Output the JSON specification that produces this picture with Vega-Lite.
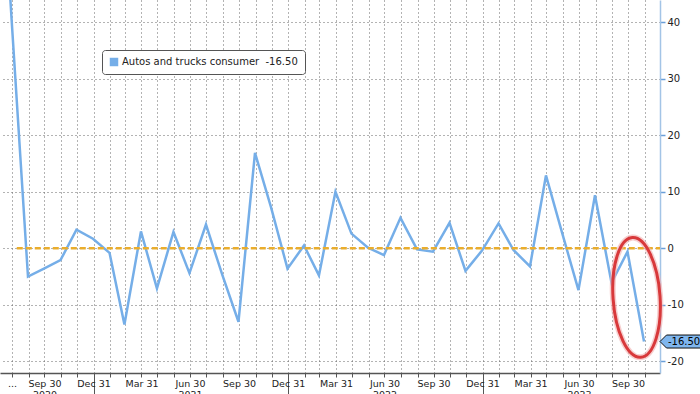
{
  "$schema": "https://vega.github.io/schema/vega-lite/v6.json",
  "width": 660,
  "height": 373,
  "autosize": "none",
  "padding": {"left": 0, "top": 0, "right": 40, "bottom": 21},
  "background": "white",
  "config": {"view": {"stroke": null}, "font": "DejaVu Sans"},
  "datasets": {
    "series": [
      {"date": "2020-06-30", "value": 88.8},
      {"date": "2020-07-31", "value": 40.9},
      {"date": "2020-08-31", "value": -5.0},
      {"date": "2020-09-30", "value": -3.6},
      {"date": "2020-10-31", "value": -2.1},
      {"date": "2020-11-30", "value": 3.3},
      {"date": "2020-12-31", "value": 1.7},
      {"date": "2021-01-31", "value": -0.8},
      {"date": "2021-02-28", "value": -13.5},
      {"date": "2021-03-31", "value": 3.0},
      {"date": "2021-04-30", "value": -7.1},
      {"date": "2021-05-31", "value": 2.9},
      {"date": "2021-06-30", "value": -4.4},
      {"date": "2021-07-31", "value": 4.2},
      {"date": "2021-08-31", "value": -4.8},
      {"date": "2021-09-30", "value": -13.0},
      {"date": "2021-10-31", "value": 16.9},
      {"date": "2021-11-30", "value": 7.3},
      {"date": "2021-12-31", "value": -3.6},
      {"date": "2022-01-31", "value": 0.5},
      {"date": "2022-02-28", "value": -4.8},
      {"date": "2022-03-31", "value": 10.0},
      {"date": "2022-04-30", "value": 2.6},
      {"date": "2022-05-31", "value": 0.1},
      {"date": "2022-06-30", "value": -1.2},
      {"date": "2022-07-31", "value": 5.4},
      {"date": "2022-08-31", "value": -0.2},
      {"date": "2022-09-30", "value": -0.6},
      {"date": "2022-10-31", "value": 4.5},
      {"date": "2022-11-30", "value": -4.0},
      {"date": "2022-12-31", "value": -0.4},
      {"date": "2023-01-31", "value": 4.4},
      {"date": "2023-02-28", "value": -0.3},
      {"date": "2023-03-31", "value": -3.2},
      {"date": "2023-04-30", "value": 12.9},
      {"date": "2023-05-31", "value": 2.5},
      {"date": "2023-06-30", "value": -7.4},
      {"date": "2023-07-31", "value": 9.4},
      {"date": "2023-08-31", "value": -6.1},
      {"date": "2023-09-30", "value": -0.6},
      {"date": "2023-10-31", "value": -16.5}
    ],
    "zero": [{"date": "2020-08-10", "end": "2023-11-30", "value": 0}],
    "circle": [{"date": "2023-10-17", "value": -8.7}],
    "flag": [{"value": -16.5, "label": "-16.50"}]
  },
  "layer": [
    {
      "data": {"name": "series"},
      "mark": {"type": "line", "strokeWidth": 2.5, "clip": true},
      "encoding": {
        "x": {
          "field": "date",
          "type": "temporal",
          "scale": {
            "type": "utc",
            "domain": [
              {"year": 2020, "month": 7, "date": 9, "hours": 12, "utc": true},
              {"year": 2023, "month": 11, "date": 30, "utc": true}
            ]
          },
          "axis": {
            "title": null,
            "orient": "bottom",
            "tickCount": {"interval": "month", "step": 1},
            "grid": true,
            "gridColor": "#666666",
            "gridDash": [1, 3],
            "gridWidth": 1,
            "domainColor": "#555555",
            "domainWidth": 1.5,
            "tickColor": "#555555",
            "tickWidth": 1,
            "tickSize": {"condition": {"test": "utcmonth(datum.value) === 0", "value": 26}, "value": 4},
            "labelExpr": "utcyear(datum.value) === 2020 && utcmonth(datum.value) === 7 ? '...' : (utcmonth(datum.value) % 3 !== 0 ? '' : (((utcyear(datum.value) === 2020 && utcmonth(datum.value) === 9) || (utcyear(datum.value) > 2020 && utcmonth(datum.value) === 6)) ? [utcFormat(datum.value - 86400000, '%b %d'), utcFormat(datum.value - 86400000, '%Y')] : utcFormat(datum.value - 86400000, '%b %d')))",
            "labelFont": "DejaVu Sans",
            "labelFontSize": 9.5,
            "labelColor": "#222222",
            "labelPadding": {"condition": {"test": "utcmonth(datum.value) === 0", "value": -21}, "value": 1},
            "labelOverlap": false,
            "labelBound": false,
            "labelFlush": false,
            "labelLineHeight": 11,
            "labelAngle": 0,
            "labelBaseline": "top",
            "labelAlign": "center"
          }
        },
        "y": {
          "field": "value",
          "type": "quantitative",
          "scale": {"domain": [-22.07, 43.95], "nice": false, "zero": false},
          "axis": {
            "title": null,
            "orient": "right",
            "values": [-20, -15, -10, -5, 0, 5, 10, 15, 20, 25, 30, 35, 40],
            "grid": true,
            "gridColor": "#666666",
            "gridDash": [1, 3],
            "gridWidth": 1,
            "gridOpacity": {"condition": {"test": "datum.value % 10 !== 0", "value": 0}, "value": 1},
            "domainColor": "#a3c4e6",
            "domainWidth": 1.5,
            "tickColor": "#6a9fd8",
            "tickWidth": 1.5,
            "tickSize": {"condition": {"test": "datum.value % 10 !== 0", "value": 3}, "value": 5},
            "labelExpr": "datum.value % 10 === 0 ? '' + datum.value : ''",
            "labelFont": "DejaVu Sans",
            "labelFontSize": 10,
            "labelColor": "#222222",
            "labelPadding": 2
          }
        },
        "color": {
          "datum": "Autos and trucks consumer\u00a0 -16.50",
          "scale": {"range": ["#75aee8"]},
          "legend": {
            "orient": "none",
            "legendX": 102,
            "legendY": 50,
            "title": null,
            "symbolType": "square",
            "symbolSize": 72,
            "symbolFillColor": "#75aee8",
            "symbolStrokeColor": "#75aee8",
            "symbolStrokeWidth": 0,
            "symbolOpacity": 1,
            "labelFont": "DejaVu Sans",
            "labelFontSize": 10,
            "labelColor": "#222222",
            "labelOffset": 3,
            "labelLimit": 400,
            "padding": 7,
            "strokeColor": "#555555",
            "fillColor": "#ffffff",
            "cornerRadius": 3
          }
        }
      }
    },
    {
      "data": {"name": "zero"},
      "mark": {"type": "rule", "color": "#eaad2c", "strokeWidth": 2.5, "strokeDash": [6, 3]},
      "encoding": {
        "x": {"field": "date", "type": "temporal"},
        "x2": {"field": "end"},
        "y": {"field": "value", "type": "quantitative"}
      }
    },
    {
      "data": {"name": "circle"},
      "mark": {"type": "point", "shape": "M0,-60 A23.5,60 0 1,1 0,60 A23.5,60 0 1,1 0,-60 Z", "size": 4, "angle": -4, "filled": false, "stroke": "#f3b0b0", "strokeWidth": 6, "opacity": 0.6},
      "encoding": {
        "x": {"field": "date", "type": "temporal"},
        "y": {"field": "value", "type": "quantitative"}
      }
    },
    {
      "data": {"name": "circle"},
      "mark": {"type": "point", "shape": "M0,-60 A23.5,60 0 1,1 0,60 A23.5,60 0 1,1 0,-60 Z", "size": 4, "angle": -4, "filled": false, "stroke": "#d8393b", "strokeWidth": 3, "opacity": 1},
      "encoding": {
        "x": {"field": "date", "type": "temporal"},
        "y": {"field": "value", "type": "quantitative"}
      }
    },
    {
      "data": {"name": "flag"},
      "mark": {"type": "point", "shape": "M0,0 L6.5,-6.5 L45,-6.5 L45,6.5 L6.5,6.5 Z", "size": 4, "filled": true, "fill": "#7fb6ee", "stroke": "#111111", "strokeWidth": 1, "opacity": 1},
      "encoding": {
        "x": {"value": "width"},
        "y": {"field": "value", "type": "quantitative"}
      }
    },
    {
      "data": {"name": "flag"},
      "mark": {"type": "text", "align": "left", "baseline": "middle", "dx": 8, "font": "DejaVu Sans", "fontSize": 10, "color": "#000000"},
      "encoding": {
        "x": {"value": "width"},
        "y": {"field": "value", "type": "quantitative"},
        "text": {"field": "label"}
      }
    }
  ]
}
